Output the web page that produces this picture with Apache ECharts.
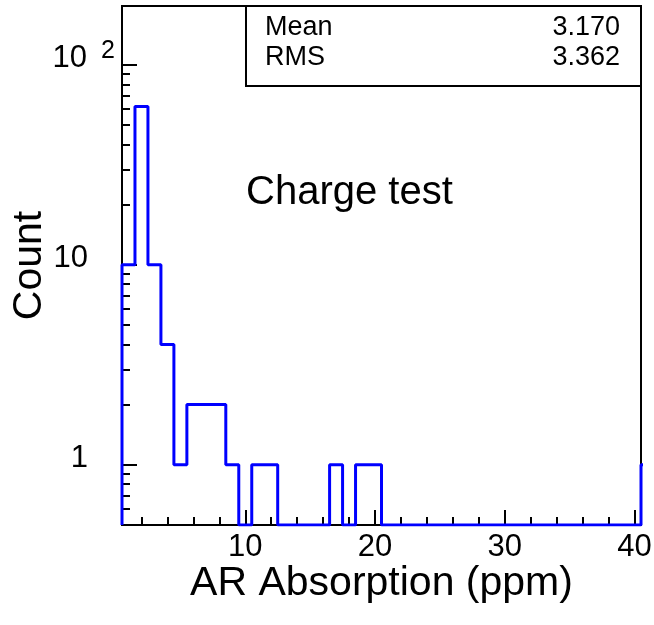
<!DOCTYPE html>
<html>
<head>
<meta charset="utf-8">
<script src="https://cdn.jsdelivr.net/npm/echarts@6/dist/echarts.min.js"></script>
<style>
html,body{margin:0;padding:0;background:#fff;}
#chart{width:654px;height:625px;}
</style>
</head>
<body>
<div id="chart"></div>
<script>
// ---- data ----
const binWidth = 1;
const binCenters = [1,2,3,4,5,6,7,8,9,10,11,12,13,14,15,16,17,18,19,20,
                    21,22,23,24,25,26,27,28,29,30,31,32,33,34,35,36,37,38,39,40,41];
const counts = [10,62,10,4,1,2,2,2,1,0,1,1,0,0,0,0,1,0,1,1,
                0,0,0,0,0,0,0,0,0,0,0,0,0,0,0,0,0,0,0,0,1];
const xRange = [0.5, 40.5];
const yRange = [0.5, 197];
const xTickLabels = [10, 20, 30, 40];
const xMinorTicks = [2,4,6,8,12,14,16,18,22,24,26,28,32,34,36,38];
const yTickValues = [1, 10, 100];
const yMinorTicks = [0.6,0.7,0.8,0.9,2,3,4,5,6,7,8,9,20,30,40,50,60,70,80,90];
const statNames = ['Mean', 'RMS'];
const statValues = ['3.170', '3.362'];
const plotTitle = 'Charge test';
const xTitle = 'AR Absorption (ppm)';
const yTitle = 'Count';

// ---- build ----
const FONT = "'Liberation Sans', Arial, Helvetica, sans-serif";
const lg = v => Math.log10(v);
const outline = [];
outline.push([binCenters[0] - binWidth / 2, lg(yRange[0])]);
binCenters.forEach((c, i) => {
  const v = counts[i] > 0 ? counts[i] : yRange[0];
  outline.push([c - binWidth / 2, lg(v)]);
  outline.push([c + binWidth / 2, lg(v)]);
});
outline.push([binCenters[binCenters.length - 1] + binWidth / 2, lg(yRange[0])]);

const G = {left: 122, right: 13, top: 6, bottom: 100};
const chart = echarts.init(document.getElementById('chart'), null, {renderer: 'canvas'});
const blackLine = {color: '#000', width: 2};

chart.setOption({
  animation: false,
  backgroundColor: '#fff',
  title: {
    text: plotTitle, left: 246, top: 173, padding: 0,
    textStyle: {fontSize: 40, fontWeight: 'normal', color: '#000', fontFamily: FONT}
  },
  grid: {left: G.left, right: G.right, top: G.top, bottom: G.bottom, show: true,
         outerBoundsMode: 'none', containLabel: false,
         borderColor: '#000', borderWidth: 2, backgroundColor: 'transparent'},
  xAxis: [{
    type: 'value', min: xRange[0], max: xRange[1], position: 'bottom',
    axisLine: {show: true, onZero: false, lineStyle: blackLine},
    axisTick: {show: true, inside: true, length: 15, customValues: xTickLabels, lineStyle: blackLine},
    axisLabel: {show: true, customValues: xTickLabels, fontSize: 31, color: '#000', fontFamily: FONT, margin: 7},
    splitLine: {show: false},
    name: xTitle, nameLocation: 'middle', nameGap: 38, nameMoveOverlap: false,
    nameTextStyle: {fontSize: 41, color: '#000', fontFamily: FONT}
  }, {
    type: 'value', min: xRange[0], max: xRange[1], position: 'bottom',
    axisLine: {show: false, onZero: false},
    axisTick: {show: true, inside: true, length: 8, customValues: xMinorTicks, lineStyle: blackLine},
    axisLabel: {show: false},
    splitLine: {show: false}
  }],
  yAxis: [{
    type: 'value', min: lg(yRange[0]), max: lg(yRange[1]), position: 'left',
    axisLine: {show: true, onZero: false, lineStyle: blackLine},
    axisTick: {show: true, inside: true, length: 15, customValues: yTickValues.map(lg), lineStyle: blackLine},
    axisLabel: {
      show: true, customValues: yTickValues.map(lg), fontSize: 31, color: '#000', fontFamily: FONT,
      margin: 7, padding: [0, 0, 12, 0],
      formatter: function (v) {
        const e = Math.round(v);
        if (e === 0) return '1{p| }';
        if (e === 1) return '10{p| }';
        return '10{s|' + e + '}';
      },
      rich: {
        p: {width: 27, fontSize: 25},
        s: {fontSize: 25, padding: [0, 0, 16, 14], color: '#000', fontFamily: FONT}
      }
    },
    splitLine: {show: false},
    name: yTitle, nameLocation: 'middle', nameGap: 72, nameRotate: 90, nameMoveOverlap: false,
    nameTextStyle: {fontSize: 41, color: '#000', fontFamily: FONT}
  }, {
    type: 'value', min: lg(yRange[0]), max: lg(yRange[1]), position: 'left',
    axisLine: {show: false, onZero: false},
    axisTick: {show: true, inside: true, length: 8, customValues: yMinorTicks.map(lg), lineStyle: blackLine},
    axisLabel: {show: false},
    splitLine: {show: false}
  }],
  graphic: [
    {type: 'rect', shape: {x: 246, y: 6, width: 395, height: 80},
     style: {fill: '#fff', stroke: '#000', lineWidth: 2}, z: 10},
    {type: 'text', x: 265, y: 28, style: {text: statNames[0], fontSize: 27, fontFamily: FONT, fill: '#000', verticalAlign: 'middle', align: 'left'}, z: 11},
    {type: 'text', x: 620, y: 28, style: {text: statValues[0], fontSize: 27, fontFamily: FONT, fill: '#000', verticalAlign: 'middle', align: 'right'}, z: 11},
    {type: 'text', x: 265, y: 58, style: {text: statNames[1], fontSize: 27, fontFamily: FONT, fill: '#000', verticalAlign: 'middle', align: 'left'}, z: 11},
    {type: 'text', x: 620, y: 58, style: {text: statValues[1], fontSize: 27, fontFamily: FONT, fill: '#000', verticalAlign: 'middle', align: 'right'}, z: 11}
  ],
  series: [{
    type: 'line', xAxisIndex: 0, yAxisIndex: 0, data: outline,
    symbol: 'none', clip: true,
    lineStyle: {color: '#0000ff', width: 3},
    z: 5
  }]
});
</script>
</body>
</html>
